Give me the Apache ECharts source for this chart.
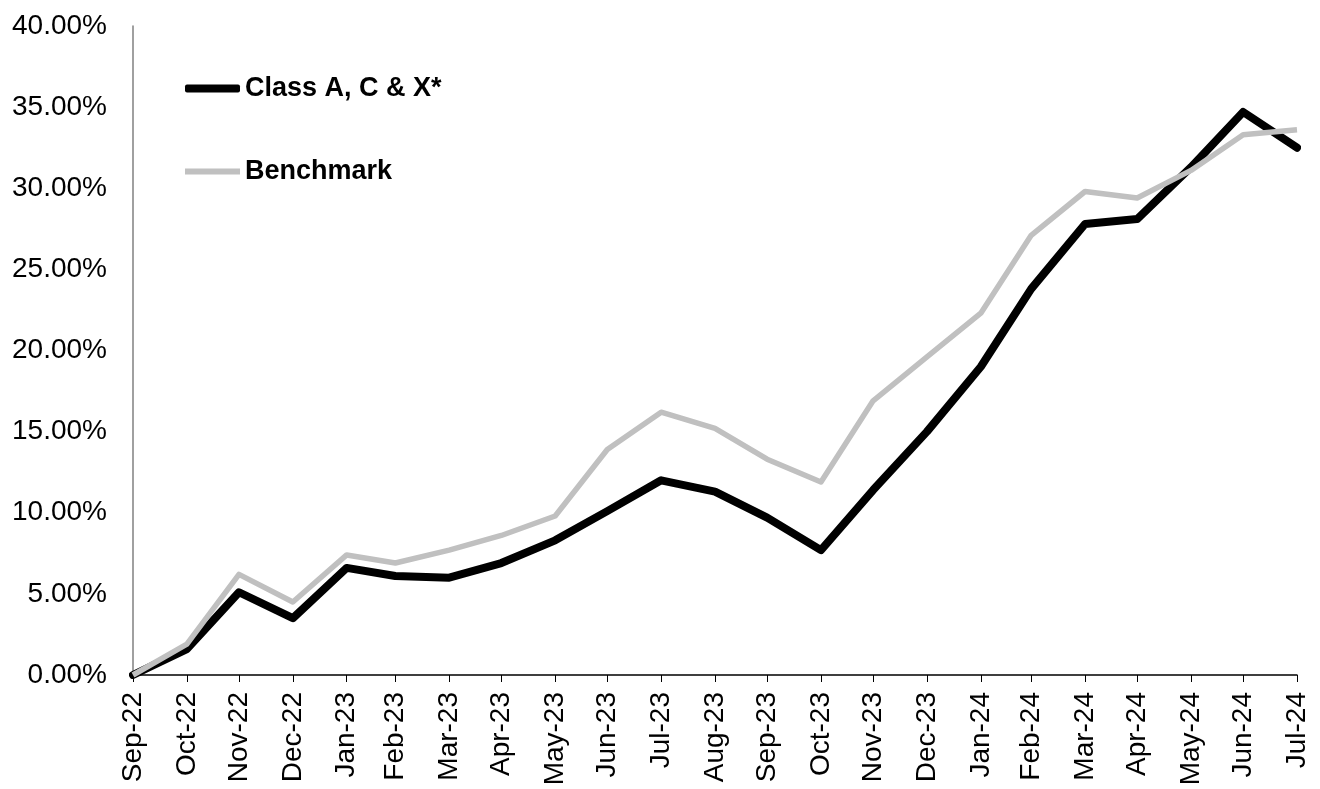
<!DOCTYPE html>
<html>
<head>
<meta charset="utf-8">
<script src="https://cdn.jsdelivr.net/npm/echarts@6/dist/echarts.min.js"></script>
<style>
  html, body { margin: 0; padding: 0; background: #fff; }
  #chart { width: 1320px; height: 789px; }
</style>
</head>
<body>
<div id="chart"></div>
<script>
// month-end dates of each point
var dates = ['2022-09-30', '2022-10-31', '2022-11-30', '2022-12-31', '2023-01-31', '2023-02-28',
  '2023-03-31', '2023-04-30', '2023-05-31', '2023-06-30', '2023-07-31', '2023-08-31',
  '2023-09-30', '2023-10-31', '2023-11-30', '2023-12-31', '2024-01-31', '2024-02-29',
  '2024-03-31', '2024-04-30', '2024-05-31', '2024-06-30', '2024-07-31'];
var monthLabels = ['Sep-22', 'Oct-22', 'Nov-22', 'Dec-22', 'Jan-23', 'Feb-23', 'Mar-23', 'Apr-23',
  'May-23', 'Jun-23', 'Jul-23', 'Aug-23', 'Sep-23', 'Oct-23', 'Nov-23', 'Dec-23', 'Jan-24',
  'Feb-24', 'Mar-24', 'Apr-24', 'May-24', 'Jun-24', 'Jul-24'];
// cumulative return, %
var classA = [0.0, 1.6, 5.1, 3.5, 6.6, 6.1, 6.0, 6.9, 8.3, 10.1, 12.0, 11.3, 9.7, 7.7, 11.4,
  15.0, 19.0, 23.8, 27.8, 28.1, 31.3, 34.7, 32.5];
var benchmark = [0.0, 1.9, 6.2, 4.5, 7.4, 6.9, 7.7, 8.6, 9.8, 13.9, 16.2, 15.2, 13.3, 11.9, 16.9,
  19.6, 22.3, 27.1, 29.8, 29.4, 31.1, 33.3, 33.6];

function toTime(s) {
  var p = s.split('-');
  return Date.UTC(+p[0], +p[1] - 1, +p[2]);
}
var times = dates.map(toTime);

var font = 'Liberation Sans, Arial, sans-serif';
var myChart = echarts.init(document.getElementById('chart'));

myChart.setOption({
  backgroundColor: '#fff',
  animation: false,
  grid: { left: 133, right: 23, top: 26, bottom: 114 },
  legend: {
    orient: 'vertical',
    left: 185,
    top: 75,
    padding: 0,
    itemWidth: 55,
    itemHeight: 8,
    itemGap: 56,
    textStyle: { fontFamily: font, fontSize: 27, fontWeight: 'bold', color: '#000' },
    data: [
      { name: 'Class A, C & X*', icon: 'roundRect' },
      { name: 'Benchmark', icon: 'path://M0,0h55v6h-55z' }
    ]
  },
  xAxis: {
    type: 'value',
    min: times[0],
    max: times[times.length - 1],
    splitLine: { show: false },
    axisLine: { show: true, lineStyle: { color: '#000', width: 1.5 } },
    axisTick: { show: true, length: 7, customValues: times, lineStyle: { color: '#000' } },
    axisLabel: {
      customValues: times,
      rotate: 90,
      margin: 17,
      fontFamily: font,
      fontSize: 28,
      color: '#000',
      formatter: function (v) {
        var i = times.indexOf(v);
        return i >= 0 ? monthLabels[i] : '';
      }
    }
  },
  yAxis: {
    type: 'value',
    min: 0,
    max: 40,
    interval: 5,
    splitLine: { show: false },
    axisLine: { show: true, lineStyle: { color: '#808080', width: 1.5 } },
    axisTick: { show: false },
    axisLabel: {
      margin: 26,
      fontFamily: font,
      fontSize: 28,
      color: '#000',
      formatter: function (v) { return v.toFixed(2) + '%'; }
    }
  },
  series: [
    {
      name: 'Class A, C & X*',
      type: 'line',
      symbol: 'none',
      color: '#000',
      lineStyle: { color: '#000', width: 8, cap: 'round', join: 'round' },
      data: times.map(function (t, i) { return [t, classA[i]]; })
    },
    {
      name: 'Benchmark',
      type: 'line',
      symbol: 'none',
      color: '#c0c0c0',
      lineStyle: { color: '#c0c0c0', width: 5.5, join: 'round' },
      data: times.map(function (t, i) { return [t, benchmark[i]]; })
    }
  ]
});
</script>
</body>
</html>
